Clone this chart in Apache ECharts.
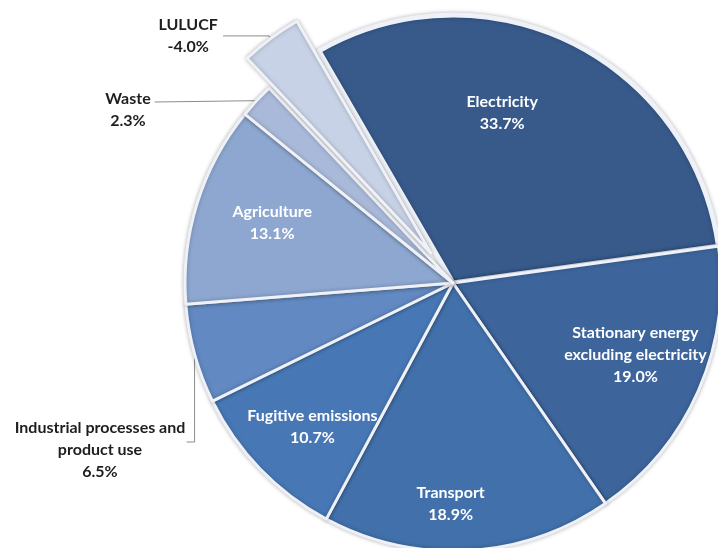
<!DOCTYPE html>
<html>
<head>
<meta charset="utf-8">
<script src="https://cdn.jsdelivr.net/npm/echarts@6/dist/echarts.min.js"></script>
<style>html,body{margin:0;padding:0;background:#fff;}#chart{width:718px;height:548px;}</style>
</head>
<body>
<div id="chart"></div>
<script>
const categories = ['Electricity', 'Stationary energy\nexcluding electricity', 'Transport', 'Fugitive emissions', 'Industrial processes and\nproduct use', 'Agriculture', 'Waste', 'LULUCF'];
const shares = [33.7, 19.0, 18.9, 10.7, 6.5, 13.1, 2.3, -4.0];
const colors = ['#375a8b', '#3d659c', '#4270aa', '#4778b5', '#6289c1', '#8ea7d0', '#a9b9d9', '#c8d2e6'];
const outsideLabels = ['LULUCF', 'Waste', 'Industrial processes and\nproduct use'];

// label nudges relative to the library's default placement
const insideNudge = {
  'Electricity': [-11, -47],
  'Stationary energy\nexcluding electricity': [57, 17],
  'Transport': [-10, 84],
  'Fugitive emissions': [-42, 49],
  'Agriculture': [-50, -20]
};
const outsidePlace = {
  'Waste': [128, 110],
  'Industrial processes and\nproduct use': [100, 450]
};

const chart = echarts.init(document.getElementById('chart'), null, {renderer: 'canvas'});
const data = categories.map((name, i) => {
  const outside = outsideLabels.includes(name);
  const item = {
    name: name,
    value: Math.abs(shares[i]),
    share: shares[i],
    itemStyle: {color: colors[i]},
    label: {
      position: outside ? 'outside' : 'inside',
      color: outside ? '#1e1e1e' : '#ffffff'
    },
    labelLine: {show: outside, lineStyle: {color: '#8c8c8c', width: 1}}
  };
  if (name === 'LULUCF') {
    item.selected = true;
    item.label.align = 'right';
    item.label.formatter = p => '{c|' + p.name + '}\n{c|' + p.data.share.toFixed(1) + '%}';
    item.labelLine.length = 3;
    item.labelLine.length2 = 46;
  }
  if (name === 'Electricity') item.itemStyle.borderWidth = 5;
  return item;
});

chart.setOption({
  animation: false,
  backgroundColor: '#ffffff',
  series: [{
    type: 'pie',
    center: [453, 283],
    radius: [0, 268],
    startAngle: 120,
    clockwise: true,
    selectedMode: 'multiple',
    selectedOffset: 37,
    avoidLabelOverlap: false,
    emphasis: {disabled: true},
    itemStyle: {borderColor: '#eef1f7', borderWidth: 3, shadowBlur: 4, shadowColor: 'rgba(0,0,0,0.25)'},
    label: {
      show: true,
      fontFamily: 'Lato',
      fontWeight: 'bold',
      fontSize: 16,
      lineHeight: 22,
      align: 'center',
      formatter: p => p.name + '\n' + p.data.share.toFixed(1) + '%',
      rich: {
        c: {fontFamily: 'Lato', fontWeight: 'bold', fontSize: 16, lineHeight: 22, width: 60, align: 'center', color: '#1e1e1e'}
      }
    },
    labelLine: {show: false, length: 20, length2: 20},
    labelLayout: function (params) {
      const name = categories[params.dataIndex];
      if (insideNudge[name]) {
        return {dx: insideNudge[name][0], dy: insideNudge[name][1]};
      }
      const pos = outsidePlace[name];
      if (!pos) return {};
      const w = params.labelRect.width;
      const p0 = params.labelLinePoints ? params.labelLinePoints[0] : null;
      const out = {x: pos[0], y: pos[1], align: 'center', verticalAlign: 'middle'};
      if (p0) {
        if (name === 'Waste') out.labelLinePoints = [p0, [pos[0] + w / 2 + 4, pos[1] - 8], [pos[0] + w / 2 + 4, pos[1] - 8]];
        else out.labelLinePoints = [p0, [p0[0], pos[1] - 8], [p0[0] - 8, pos[1] - 8]];
      }
      return out;
    },
    data: data
  }]
});
</script>
</body>
</html>
